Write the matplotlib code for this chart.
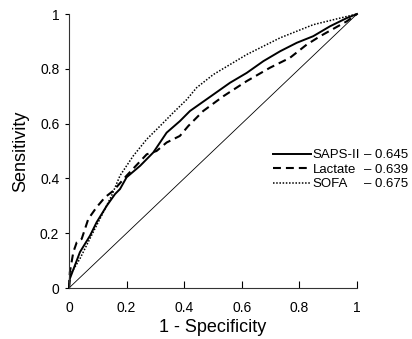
import matplotlib
matplotlib.use('Agg')
import matplotlib.pyplot as plt
from matplotlib.lines import Line2D

plt.rcParams['font.family'] = ['Liberation Sans', 'DejaVu Sans']

# ROC curves (1 - specificity, sensitivity)
saps_fpr = [0, .003, .038, .073, .096, .131, .16, .177, .2, .247, .293, .339,
            .385, .42, .501, .559, .617, .675, .733, .791, .848, .906, .964, 1]
saps_tpr = [0, .034, .131, .191, .24, .3, .343, .361, .404, .446, .495, .567,
            .609, .646, .706, .749, .785, .828, .864, .895, .919, .955, .985, 1]

lact_fpr = [0, .003, .015, .027, .044, .067, .096, .125, .154, .2, .27, .304,
            .339, .385, .414, .466, .536, .617, .698, .767, .825, .872, .964, 1]
lact_tpr = [0, .058, .131, .167, .179, .252, .295, .331, .355, .41, .488, .5,
            .531, .555, .591, .646, .7, .755, .804, .84, .888, .919, .973, 1]

sofa_fpr = [0, .003, .038, .084, .119, .148, .177, .223, .27, .316, .362, .409,
            .443, .501, .617, .733, .848, .941, 1]
sofa_tpr = [0, .046, .107, .204, .276, .337, .41, .482, .543, .591, .64, .688,
            .731, .779, .852, .913, .961, .985, 1]

names = ['SAPS-II', 'Lactate', 'SOFA']
aucs = ['0.645', '0.639', '0.675']
ticks = [0, 0.2, 0.4, 0.6, 0.8, 1]
tick_labels = ['0', '0.2', '0.4', '0.6', '0.8', '1']

fig = plt.figure(figsize=(4.12, 3.39), dpi=100)
ax = fig.add_axes([69 / 412, 1 - 288 / 339, 288 / 412, 274 / 339])

ax.plot([0, 1], [0, 1], color='black', lw=0.6, clip_on=False)
h1, = ax.plot(saps_fpr, saps_tpr, color='black', lw=1.4, ls='-', clip_on=False)
h2, = ax.plot(lact_fpr, lact_tpr, color='black', lw=1.5, ls=(0, (3.8, 2.4)), clip_on=False)
h3, = ax.plot(sofa_fpr, sofa_tpr, color='black', lw=1.1, ls=(0, (1, 1.1)), clip_on=False)

ax.set_xlim(0, 1)
ax.set_ylim(0, 1)
for s in ['top', 'right']:
    ax.spines[s].set_visible(False)
for s in ['left', 'bottom']:
    ax.spines[s].set_linewidth(0.8)
    ax.spines[s].set_color('#333333')

ax.set_xticks(ticks)
ax.set_xticklabels(tick_labels)
ax.set_yticks(ticks)
ax.set_yticklabels(tick_labels)
ax.tick_params(axis='x', direction='in', length=5, width=0.8, labelsize=10, pad=9.5)
ax.tick_params(axis='y', direction='out', length=3, width=0.8, labelsize=10, pad=4)

ax.set_xlabel('1 - Specificity', fontsize=13, labelpad=3)
ax.set_ylabel('Sensitivity', fontsize=13, labelpad=8)

leg_kw = dict(loc='center left', bbox_transform=fig.transFigure, frameon=False,
              fontsize=9.5, labelspacing=0.17, borderpad=0, borderaxespad=0)
leg1 = ax.legend([h1, h2, h3], names, bbox_to_anchor=(273 / 412, 0.499),
                 handlelength=2.85, handletextpad=0.15, **leg_kw)
ax.add_artist(leg1)
blank = [Line2D([], [], ls='none') for _ in aucs]
ax.legend(blank, ['\u2013 ' + a for a in aucs], bbox_to_anchor=(364 / 412, 0.499),
          handlelength=0, handletextpad=0, **leg_kw)

fig.savefig('out.png', dpi=100)
